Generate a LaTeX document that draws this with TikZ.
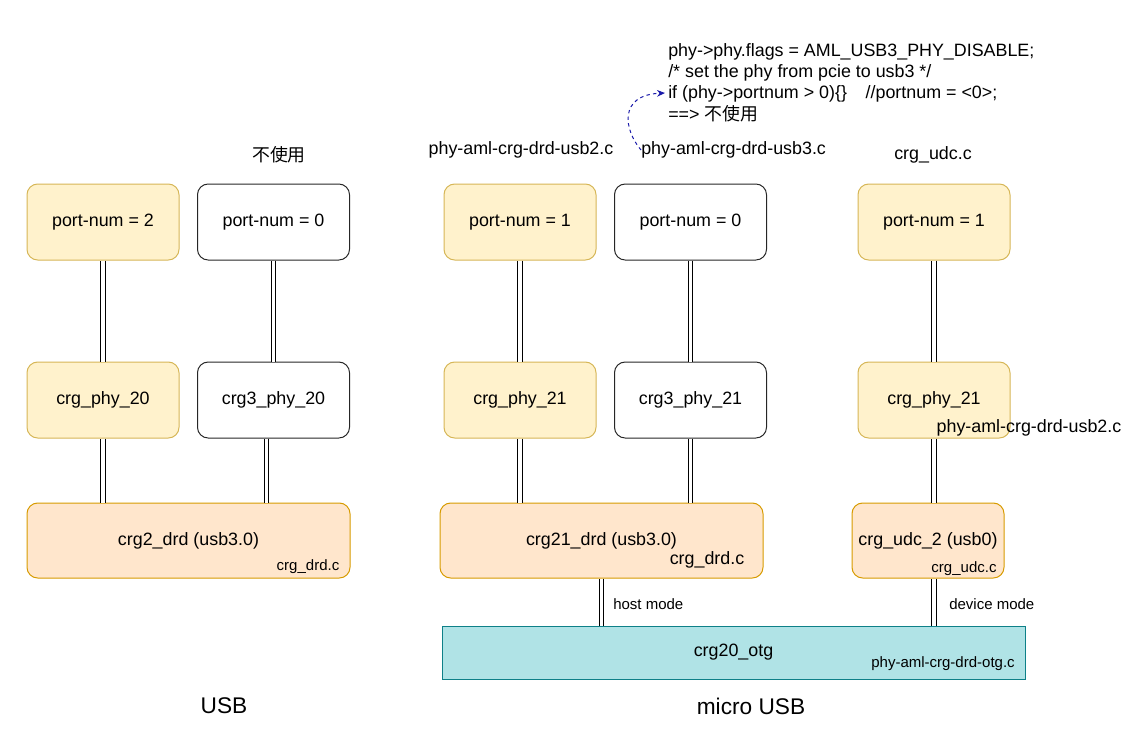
\documentclass[tikz,border=0pt]{standalone}
\usepackage{fontspec}
\setmainfont{Liberation Sans}
\newfontfamily\cjk{Noto Sans CJK SC}
\usepackage{tikz}
\usetikzlibrary{arrows.meta}
\definecolor{ylwfill}{HTML}{FFF2CC}
\definecolor{ylwline}{HTML}{D6B656}
\definecolor{orgfill}{HTML}{FFE6CC}
\definecolor{orgline}{HTML}{D79B00}
\definecolor{otgfill}{HTML}{B0E3E6}
\definecolor{otgline}{HTML}{0E8088}
\definecolor{hintblue}{HTML}{1A1AAA}
\tikzset{
  box/.style={rectangle,rounded corners=8pt,line width=0.75pt,minimum width=114pt,minimum height=57pt,inner sep=2pt,font=\fontsize{13.4}{16}\selectfont},
  ylwbox/.style={box,draw=ylwline,fill=ylwfill},
  plainbox/.style={box,draw=black!85},
  orgbox/.style={box,draw=orgline,fill=orgfill,minimum height=56.25pt},
  link/.style={draw=black,double=white,double distance=2.6pt,line width=0.7pt},
  lbl/.style={inner sep=0pt,font=\fontsize{13.4}{16}\selectfont},
  note/.style={inner sep=0pt,font=\fontsize{11.25}{13.5}\selectfont},
  title/.style={inner sep=0pt,font=\fontsize{17}{20}\selectfont}
}
\begin{document}
\begin{tikzpicture}[x=0.75pt,y=-0.75pt]
        \useasboundingbox (0,0) rectangle (1142,732);
        % port row
        \node[ylwbox] (pn2) at (103,222) {port-num = 2};
        \node[plainbox] (pn0a) at (273.5,222) {port-num = 0};
        \node[ylwbox] (pn1a) at (520,222) {port-num = 1};
        \node[plainbox] (pn0b) at (690.5,222) {port-num = 0};
        \node[ylwbox] (pn1u) at (934,222) {port-num = 1};
        % phy row
        \node[ylwbox] (phy20) at (103,400) {crg\_phy\_20};
        \node[plainbox] (c3phy20) at (273.5,400) {crg3\_phy\_20};
        \node[ylwbox] (phy21) at (520,400) {crg\_phy\_21};
        \node[plainbox] (c3phy21) at (690.5,400) {crg3\_phy\_21};
        \node[ylwbox] (phyu) at (934,400) {crg\_phy\_21};
        % controller row
        \node[orgbox,minimum width=242.25pt] (drd2) at (188.5,540.5) {crg2\_drd (usb3.0)};
        \node[orgbox,minimum width=242.25pt] (drd21) at (601.5,540.5) {crg21\_drd (usb3.0)};
        \node[orgbox] (udc2) at (928,540.5) {crg\_udc\_2 (usb0)};
        \node[rectangle,draw=otgline,fill=otgfill,line width=0.75pt,minimum width=437.25pt,minimum height=39.75pt,font=\fontsize{13.4}{16}\selectfont] (otg) at (733.5,652.5) {crg20\_otg};
        % links
        \draw[link] (pn2) -- (phy20);
        \draw[link] (pn0a) -- (c3phy20);
        \draw[link] (pn1a) -- (phy21);
        \draw[link] (pn0b) -- (c3phy21);
        \draw[link] (pn1u) -- (phyu);
        \draw[link] (phy20) -- (phy20 |- drd2.north);
        \coordinate (c3tap) at (266.5,438);
        \draw[link] (c3phy20.south -| c3tap) -- (drd2.north -| c3tap);
        \draw[link] (phy21) -- (phy21 |- drd21.north);
        \draw[link] (c3phy21) -- (c3phy21 |- drd21.north);
        \draw[link] (phyu) -- (phyu |- udc2.north);
        \draw[link] (drd21.south) -- (drd21.south |- otg.north);
        \draw[link] (udc2.south -| phyu.south) -- (phyu.south |- otg.north);
        % file labels
        \node[lbl] (unused) at (279,155) {\cjk 不使用};
        \node[lbl] (usb2a) at (521,150) {phy-aml-crg-drd-usb2.c};
        \node[lbl,anchor=west] (usb3) at (641,150) {phy-aml-crg-drd-usb3.c};
        \node[lbl] (udcsrc) at (933,155) {crg\_udc.c};
        \node[lbl] (usb2b) at (1029,428) {phy-aml-crg-drd-usb2.c};
        \node[note] (drd2src) at (308,567) {crg\_drd.c};
        \node[lbl] (drd21src) at (707,560) {crg\_drd.c};
        \node[note] (udc2src) at (964,569) {crg\_udc.c};
        \node[note,anchor=west] (host) at (613,604) {host mode};
        \node[note,anchor=west] (device) at (949,604) {device mode};
        \node[note] (otgsrc) at (943,664) {phy-aml-crg-drd-otg.c};
        % code note
        \node[lbl,anchor=north west,align=left,font=\fontsize{13.4}{16}\selectfont] (code) at (668,43)
          {phy->phy.flags = AML\_USB3\_PHY\_DISABLE;\\
           /* set the phy from pcie to usb3 */\\
           if (phy->portnum > 0)\{\}\hspace{14pt}//portnum = <0>;\\
           ==> {\cjk 不使用}};
        \coordinate (ifpt) at (665,93);
        \draw[hintblue,line width=0.75pt,dash pattern=on 2.5pt off 2.5pt,-{Stealth[length=6pt,width=5pt]}]
          (usb3.west) .. controls (624,130) and (618,95) .. (ifpt);
        % titles
        \node[title] (usb) at (224,706) {USB};
        \node[title] (micro) at (751,706) {micro USB};
\end{tikzpicture}
\end{document}
